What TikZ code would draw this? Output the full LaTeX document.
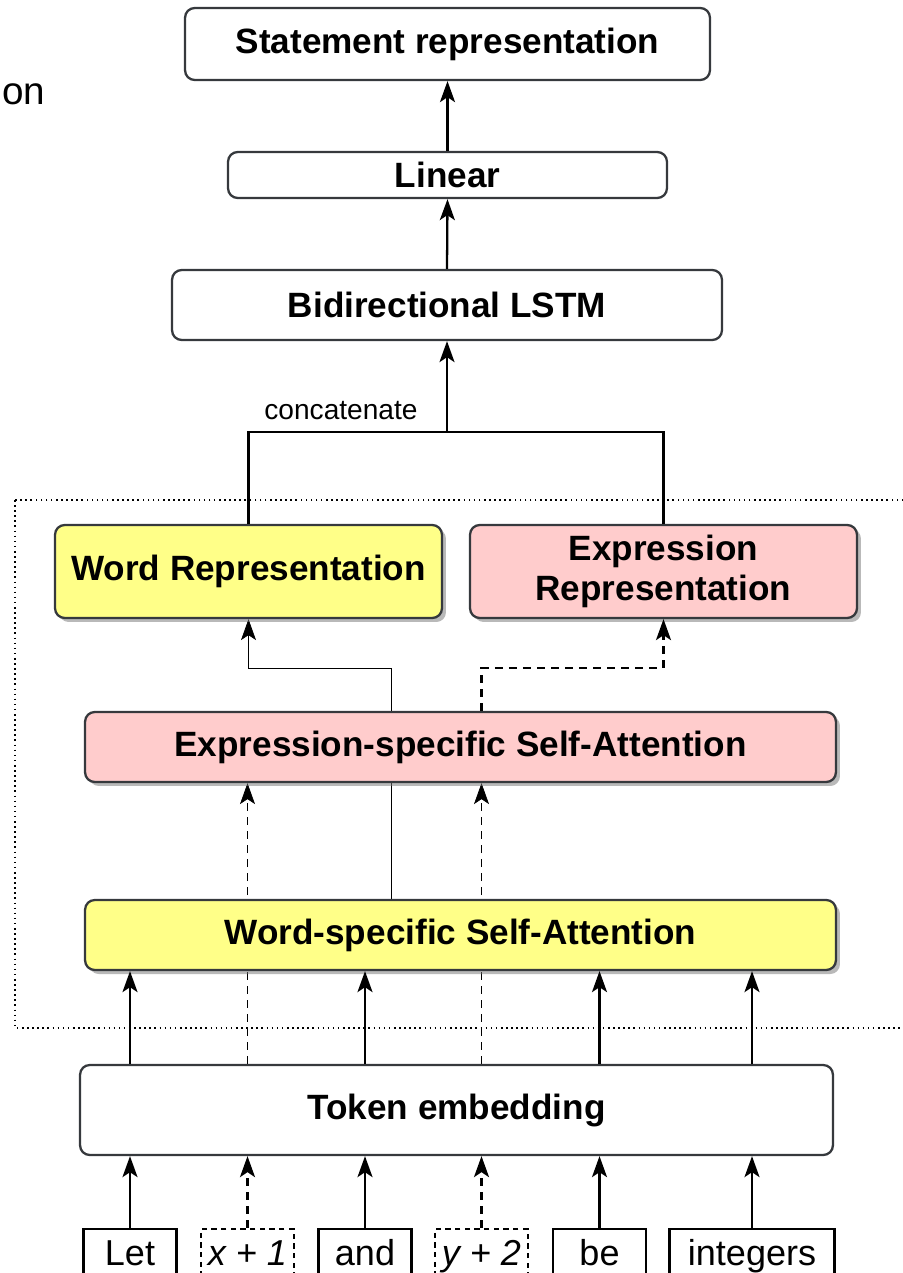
\documentclass[tikz,border=0pt]{standalone}
\usepackage{fontspec}
\setmainfont{Liberation Sans}
\usetikzlibrary{arrows.meta, positioning, shadows, backgrounds}
\definecolor{cyellow}{HTML}{FFFF88}
\definecolor{cpink}{HTML}{FFCCCC}
\definecolor{cdark}{HTML}{36393D}
\newcommand{\boxfont}{\fontsize{20}{23}\selectfont\bfseries}
\newcommand{\tokfont}{\fontsize{20.5}{24}\selectfont}
\tikzset{
  every picture/.style={line width=1.3pt},
  block/.style={draw=cdark, fill=#1, rounded corners=5.5pt, align=center, font=\boxfont, inner sep=0pt},
  block/.default=white,
  shadowed/.style={drop shadow={shadow xshift=0.08cm, shadow yshift=-0.08cm, fill=black!55, opacity=0.5}},
  token/.style={draw, anchor=north, font=\tokfont, text height=0.72cm, text depth=0.9cm, inner ysep=0pt, minimum width=1.86cm},
  dashedbox/.style={dash pattern=on 3pt off 2.5pt},
  arrow/.style={-{Stealth[length=4.2mm, width=3mm, inset=1mm]}},
  dashedline/.style={dash pattern=on 4.5pt off 3.5pt},
}

\begin{document}
\begin{tikzpicture}[x=0.02cm, y=-0.02cm]
  \useasboundingbox (0,0) rectangle (902,1273);
  \node[font=\fontsize{22}{26}\selectfont, anchor=base west, inner sep=0pt] (cut) at (1,105) {on};
  % frame round the attention part
  \draw[line width=0.9pt, dotted] (15,500) rectangle (940,1028);
  \node[block, minimum width=10.5cm, minimum height=1.44cm] (stmt) at (447.5,44) {Statement representation};
  \node[block, minimum width=8.78cm, minimum height=0.92cm] (linear) at (447.5,175) {Linear};
  \node[block, minimum width=11cm, minimum height=1.4cm] (lstm) at (447,305) {Bidirectional LSTM};
  \node[block=cyellow, shadowed, minimum width=7.74cm, minimum height=1.86cm] (wordrep) at (248.5,571.5) {Word Representation};
  \node[block=cpink, shadowed, minimum width=7.74cm, minimum height=1.86cm] (exprrep) at (663.5,571.5) {Expression\\Representation};
  \node[block=cpink, shadowed, minimum width=15.02cm, minimum height=1.4cm] (exprattn) at (460.5,747) {Expression-specific Self-Attention};
  \node[block=cyellow, shadowed, minimum width=15.02cm, minimum height=1.4cm] (wordattn) at (460.5,935) {Word-specific Self-Attention};
  \node[block, minimum width=15.06cm, minimum height=1.8cm] (embed) at (456.5,1110) {Token embedding};

  % input tokens
  \node[token] (tlet) at (130,1228) {Let};
  \node[token, dashedbox] (tx) at (247.5,1228) {\textit{x + 1}};
  \node[token] (tand) at (365,1228) {and};
  \node[token, dashedbox] (ty) at (481.5,1228) {\textit{y + 2}};
  \node[token] (tbe) at (599.5,1228) {be};
  \node[token, minimum width=3.3cm] (tint) at (752,1228) {integers};

  \coordinate (mid) at (391,668);
  \coordinate (cat) at (447,432);

  \foreach \t in {tlet, tand, tbe, tint}
    \draw[arrow] (\t.north) -- (\t.north |- embed.south);
  \foreach \t in {tx, ty}
    \draw[arrow, dashedline] (\t.north) -- (\t.north |- embed.south);
  \foreach \t in {tlet, tand, tbe, tint}
    \draw[arrow] (embed.north -| \t) -- (wordattn.south -| \t);
  \begin{scope}[on background layer]
    \foreach \t in {tx, ty}
      \draw[arrow, dashedline] (embed.north -| \t) -- (exprattn.south -| \t);
    \draw[arrow] (wordattn.north -| mid) -- (mid) -| (wordrep.south);
  \end{scope}
  \draw[arrow, dashedline] (exprattn.north -| ty) -- (ty |- mid) -| (exprrep.south);

  \draw (wordrep.north) |- (cat) -| (exprrep.north);
  \node[font=\fontsize{16}{18}\selectfont] (catlabel) at (341,411) {concatenate};
  \draw[arrow] (cat) -- (lstm.south);
  \draw[arrow] (lstm.north) -- (linear.south);
  \draw[arrow] (linear.north) -- (stmt.south);
\end{tikzpicture}
\end{document}
